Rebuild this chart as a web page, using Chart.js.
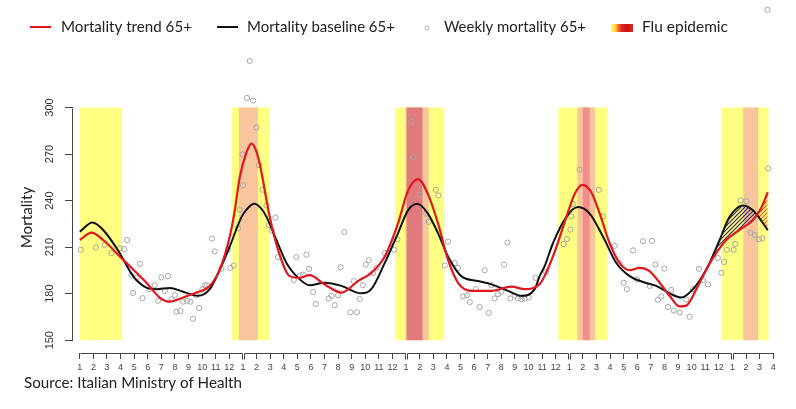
<!DOCTYPE html>
<html>
<head>
<meta charset="utf-8">
<script src="https://cdn.jsdelivr.net/npm/chart.js@4.4.1/dist/chart.umd.min.js"></script>
<style>
  html, body { margin: 0; padding: 0; background: #fff; }
  canvas { display: block; }
</style>
</head>
<body>
<canvas id="mortalityChart" width="796" height="409"></canvas>
<script>
// Months counted from January of the first season (0 = Jan year 1)
const monthTicks = [];
for (let i = 0; i <= 51; i++) monthTicks.push(i);
const monthLabels = [
    '1', '2', '3', '4', '5', '6', '7', '8', '9', '10', '11', '12',
    '1', '2', '3', '4', '5', '6', '7', '8', '9', '10', '11', '12',
    '1', '2', '3', '4', '5', '6', '7', '8', '9', '10', '11', '12',
    '1', '2', '3', '4', '5', '6', '7', '8', '9', '10', '11', '12',
    '1', '2', '3', '4'
];
const yTicks = [150, 180, 210, 240, 270, 300];

// Flu season (yellow) and epidemic periods (orange / red)
const seasonStart = [0, 11.2, 23.2, 35.2, 47.2];
const seasonEnd = [3.1, 13.97, 26.8, 38.8, 50.65];
const epidemicStart = [11.7, 23.95, 24.04, 36.6, 37.0, 48.8];
const epidemicEnd = [13.1, 25.66, 25.2, 37.9, 37.5, 49.9];
const epidemicLevel = [1, 1, 3, 1, 2, 1];

// Mortality trend 65+ (red)
const trendMonth = [
    0, 0.86, 1.72, 2.94, 3.92, 4.9, 5.88, 6.62, 7.6, 8.58, 9.56, 10.3, 11.03, 11.4, 11.76,
    12.25, 12.62, 12.94, 13.24, 13.97, 14.58, 15.44, 16.18, 16.9, 18.0, 19.24, 20.46, 21.44,
    22.43, 23.4, 24.14, 24.88, 25.6, 26.35, 27.08, 27.82, 28.8, 30.27, 31.74, 32.72, 33.8,
    34.8, 35.79, 36.4, 36.96, 37.62, 38.24, 38.97, 39.7, 40.44, 41.18, 41.9, 42.65, 43.38,
    44.1, 44.6, 45.35, 46.08, 46.8, 47.55, 48.5, 49.5, 50.1, 50.6
];
const trendValue = [
    214.6, 219.3, 214.6, 204, 195.6, 187, 177.5, 174.8, 177.5, 180.7, 185, 195.6, 216.8, 233.7, 254.9,
    270.8, 276.7, 272.9, 263.4, 229.5, 208.3, 191.3, 190.2, 192, 186, 180.7, 188.1, 193.4,
    204, 225.2, 246.4, 253.9, 244.3, 225.2, 201.9, 187, 181.8, 181.8, 184.5, 182.9, 186,
    204, 229.5, 244.3, 250.1, 245.4, 231.6, 212.5, 199.8, 195.1, 196.6, 194.5, 187, 178.6,
    171.8, 172.3, 182.9, 195.6, 206.1, 214.6, 221, 227.4, 234.9, 245.4
];

// Mortality baseline 65+ (black)
const baseMonth = [
    0, 0.93, 1.72, 2.94, 3.92, 4.9, 5.64, 6.62, 7.6, 8.7, 9.56, 10.3, 11.03, 11.9, 12.4,
    12.82, 13.35, 13.73, 14.46, 15.2, 16.18, 16.9, 18.0, 19.24, 20.7, 21.44, 22.43, 23.4,
    24.14, 24.82, 25.6, 26.35, 27.08, 28.06, 29.29, 30.27, 31.5, 32.48, 33.46, 33.82, 34.19,
    34.8, 35.79, 36.64, 37.5, 38.48, 39.46, 40.44, 41.42, 42.4, 43.38, 44.24, 45.1, 46.08,
    47.06, 47.79, 48.77, 49.51, 50.6
];
const baseValue = [
    219.9, 225.8, 221, 206.1, 191.3, 183.9, 182.9, 183.7, 181.2, 178.6, 182.9, 195.6, 210.4, 229.5, 235.5,
    237.9, 234.8, 229.5, 214.6, 199.8, 189.2, 185.4, 187, 185, 180.2, 182.9, 199.8, 218.9,
    233.7, 237.9, 231.6, 218.9, 204, 191.3, 188.1, 186, 181.8, 178.6, 182.9, 191.3, 197.7,
    212.5, 229.5, 235.8, 231.6, 216.8, 199.8, 191.3, 187.5, 185, 180.2, 177.5, 182.9, 195.6,
    214.6, 229.5, 236.9, 233.7, 221
];

// Weekly mortality 65+ (grey circles)
const weekMonth = [
    0.07, 1.18, 1.84, 2.33, 2.94, 3.26, 3.48, 3.8, 3.92, 4.17, 4.41, 4.61, 5.15, 5.51, 5.76,
    6.0, 6.25, 6.49, 6.74, 6.99, 7.11, 7.4, 7.6, 7.89, 8.14, 8.33, 8.58, 8.77, 9.02, 9.19,
    9.36, 9.71, 9.93, 10.42, 10.9, 11.08, 11.32, 11.64, 11.76, 11.96, 12.0, 12.3, 12.5, 12.75,
    12.99, 13.18, 13.43, 13.73, 13.92, 14.14, 14.39, 14.58, 15.74, 15.93, 16.18, 16.42, 16.67,
    16.86, 17.16, 17.35, 18.31, 18.51, 18.75, 18.99, 19.19, 19.46, 19.9, 20.15, 20.39, 20.59,
    20.83, 21.03, 21.25, 21.57, 21.82, 22.43, 23.11, 23.36, 24.39, 24.54, 25.0, 25.49, 25.66,
    26.18, 26.37, 26.84, 27.08, 27.57, 27.82, 28.18, 28.48, 28.68, 29.12, 29.41, 29.78, 30.07,
    30.27, 30.51, 30.76, 31.0, 31.2, 31.45, 31.67, 31.99, 32.23, 32.48, 32.72, 33.01, 33.51,
    34.3, 35.59, 35.83, 36.08, 36.15, 36.27, 36.76, 38.18, 38.48, 39.34, 39.71, 40.0, 40.24,
    40.69, 40.98, 41.42, 41.91, 42.08, 42.33, 42.52, 42.77, 42.99, 43.26, 43.5, 43.68, 44.12,
    44.61, 44.85, 45.1, 45.54, 45.83, 46.2, 46.93, 47.18, 47.38, 47.6, 48.09, 48.2, 48.6,
    49.02, 49.34, 49.63, 49.95, 50.2, 50.58, 50.64
];
const weekValue = [
    208.3, 209.8, 211.5, 206.1, 209.3, 208.7, 214.6, 191.7, 180.5, 190.2, 199.1, 177.1, 182.9, 185.4, 175.4,
    190.5, 181.8, 191.3, 176.4, 179, 168.4, 168.8, 174.8, 175.4, 174.8, 163.8, 179, 170.8, 182.9, 185.4,
    185.4, 215.5, 207.2, 196, 208.3, 196.6, 198.1, 222.1, 234.1, 269.7, 250, 306.2, 330, 304.5,
    287.1, 262.9, 247, 236.9, 224.2, 220.6, 229, 203.6, 188.8, 203.6, 191.7, 192.3, 205.1,
    196, 181.2, 173.3, 176.9, 178.6, 172.6, 179, 197, 219.7, 168, 188.1, 168, 176.5,
    185.4, 198.7, 201.5, 193.4, 196.6, 206.1, 208.3, 215, 290.9, 268, 243.8, 231.6, 226.3,
    246.9, 243.3, 198.1, 213.6, 199.8, 196.6, 178.2, 179, 174.6, 182.9, 171.4, 195.1, 167.6,
    185.4, 176.9, 179.7, 181.2, 198.7, 212.9, 176.9, 178.6, 176.9, 176.5, 176.9, 177.5, 190.2,
    193.9, 212, 215.2, 221.3, 229.8, 237.9, 260, 246.9, 229.8, 210.8, 199.8, 187, 182.9,
    207.9, 189.2, 213.8, 185, 214, 198.7, 176.1, 178.2, 196.2, 171.4, 182.4, 169.1, 168,
    176.1, 165.1, 182.9, 196, 188.8, 186, 203, 193.4, 200.4, 208.3, 208.3, 212.1, 240,
    239.6, 219.3, 217.8, 215, 215.7, 363, 260.7
];

// Hatched gap between trend and baseline in the last season
const hatchFrom = 46.08;

const YELLOW = '#ffff82';
const EPIDEMIC_COLORS = { 1: '#f9c59d', 2: '#f58b8b', 3: '#e07b7d' };
const RED = '#e3161d';
const TEXT_FONT = 'Lato, "Open Sans", sans-serif';

function toPoints(xs, ys) {
    return xs.map((x, i) => ({ x: x, y: ys[i] }));
}

// Diagonal hatch pattern like R's polygon(density=...)
function hatchPattern(color) {
    const c = document.createElement('canvas');
    c.width = 4;
    c.height = 4;
    const g = c.getContext('2d');
    g.strokeStyle = color;
    g.lineWidth = 1.1;
    g.beginPath();
    g.moveTo(0, 4); g.lineTo(4, 0);
    g.moveTo(-1, 1); g.lineTo(1, -1);
    g.moveTo(3, 5); g.lineTo(5, 3);
    g.stroke();
    return g.createPattern(c, 'repeat');
}

// Draw text stretched to a given width
function fitText(ctx, text, x, y, width, size) {
    ctx.font = size + 'px ' + TEXT_FONT;
    const w = ctx.measureText(text).width;
    ctx.font = (size * width / w).toFixed(2) + 'px ' + TEXT_FONT;
    ctx.fillText(text, x, y);
}

const fluBands = {
    id: 'fluBands',
    beforeDatasetsDraw(chart) {
        const { ctx, scales: { x, y } } = chart;
        const top = y.getPixelForValue(300);
        const bottom = y.getPixelForValue(150);
        ctx.save();
        seasonStart.forEach((s, i) => {
            const x0 = x.getPixelForValue(s);
            const x1 = x.getPixelForValue(seasonEnd[i]);
            ctx.fillStyle = YELLOW;
            ctx.fillRect(x0, top, x1 - x0, bottom - top);
        });
        epidemicStart.forEach((s, i) => {
            const x0 = x.getPixelForValue(s);
            const x1 = x.getPixelForValue(epidemicEnd[i]);
            ctx.fillStyle = EPIDEMIC_COLORS[epidemicLevel[i]];
            ctx.fillRect(x0, top, x1 - x0, bottom - top);
        });
        ctx.restore();
    }
};

const axesAndLegend = {
    id: 'axesAndLegend',
    afterDraw(chart) {
        const { ctx, chartArea, scales: { x, y } } = chart;
        ctx.save();

        // y axis line only over the labelled range
        ctx.strokeStyle = '#444';
        ctx.lineWidth = 1;
        const ax = Math.round(chartArea.left) - 0.5;
        ctx.beginPath();
        ctx.moveTo(ax, Math.round(y.getPixelForValue(300)) + 0.5);
        ctx.lineTo(ax, Math.round(y.getPixelForValue(150)) + 0.5);
        ctx.stroke();

        // x axis drawn as one segment per year
        const ay = Math.round(chartArea.bottom) + 0.5;
        const yearStart = [0, 12, 24, 36, 48];
        const yearEnd = [12, 24, 36, 48, 51];
        yearStart.forEach((s, i) => {
            const e = yearEnd[i];
            const x0 = Math.round(x.getPixelForValue(s)) + (s > 0 ? 1 : 0) + 0.5;
            const x1 = Math.round(x.getPixelForValue(e)) - (e < 51 ? 1 : 0) + 0.5;
            ctx.beginPath();
            ctx.moveTo(x0, ay);
            ctx.lineTo(x1, ay);
            if (s > 0) { ctx.moveTo(x0, ay); ctx.lineTo(x0, ay + 6); }
            if (e < 51) { ctx.moveTo(x1, ay); ctx.lineTo(x1, ay + 6); }
            ctx.stroke();
        });

        // y axis title
        ctx.fillStyle = '#222';
        ctx.textAlign = 'center';
        ctx.textBaseline = 'alphabetic';
        ctx.save();
        ctx.translate(31.5, 217.5);
        ctx.rotate(-Math.PI / 2);
        fitText(ctx, 'Mortality', 0, 0, 61.5, 14);
        ctx.restore();

        // legend
        ctx.textAlign = 'left';
        ctx.lineWidth = 2;
        ctx.strokeStyle = RED;
        ctx.beginPath(); ctx.moveTo(30, 27); ctx.lineTo(51, 27); ctx.stroke();
        ctx.strokeStyle = '#111';
        ctx.beginPath(); ctx.moveTo(217, 27); ctx.lineTo(238, 27); ctx.stroke();
        ctx.lineWidth = 1;
        ctx.strokeStyle = '#b0b0b0';
        ctx.beginPath(); ctx.arc(427, 28, 2, 0, Math.PI * 2); ctx.stroke();
        const grad = ctx.createLinearGradient(611, 0, 633, 0);
        grad.addColorStop(0, '#ffff50');
        grad.addColorStop(0.2, '#ffd23c');
        grad.addColorStop(0.35, '#f06030');
        grad.addColorStop(0.5, '#e02020');
        grad.addColorStop(0.75, '#c81414');
        grad.addColorStop(1, '#e02626');
        ctx.fillStyle = grad;
        ctx.fillRect(611, 24, 22, 8);

        ctx.fillStyle = '#222';
        fitText(ctx, 'Mortality trend 65+', 61, 32, 131, 14);
        fitText(ctx, 'Mortality baseline 65+', 247, 32, 148, 14);
        fitText(ctx, 'Weekly mortality 65+', 444, 32, 142, 14);
        fitText(ctx, 'Flu epidemic', 642, 32, 86, 14);

        // source note
        fitText(ctx, 'Source: Italian Ministry of Health', 24, 388, 218, 14);
        ctx.restore();
    }
};

function initMortalityChart() {
    const canvas = document.getElementById('mortalityChart');

    const chart = new Chart(canvas, {
        type: 'line',
        data: {
            datasets: [
                {
                    label: 'Mortality trend 65+',
                    data: toPoints(trendMonth, trendValue),
                    borderColor: RED,
                    borderWidth: 2.2,
                    pointRadius: 0,
                    cubicInterpolationMode: 'monotone',
                    fill: false,
                    order: 0
                },
                {
                    label: 'Mortality baseline 65+',
                    data: toPoints(baseMonth, baseValue),
                    borderColor: '#111',
                    borderWidth: 2,
                    pointRadius: 0,
                    cubicInterpolationMode: 'monotone',
                    fill: false,
                    order: 1
                },
                {
                    label: 'hatch trend',
                    data: toPoints(trendMonth, trendValue).filter(p => p.x >= hatchFrom),
                    borderColor: 'rgba(0,0,0,0)',
                    borderWidth: 1,
                    pointRadius: 0,
                    cubicInterpolationMode: 'monotone',
                    fill: { target: '+1', above: hatchPattern('#d85a10'), below: hatchPattern('#2c1f55') },
                    order: 2
                },
                {
                    label: 'hatch baseline',
                    data: toPoints(baseMonth, baseValue).filter(p => p.x >= hatchFrom),
                    borderColor: 'rgba(0,0,0,0)',
                    borderWidth: 1,
                    pointRadius: 0,
                    cubicInterpolationMode: 'monotone',
                    fill: false,
                    order: 2
                },
                {
                    label: 'Weekly mortality 65+',
                    data: toPoints(weekMonth, weekValue),
                    showLine: false,
                    pointRadius: 2.6,
                    pointBorderWidth: 1,
                    pointBorderColor: '#a6a6a6',
                    pointBackgroundColor: 'rgba(0,0,0,0)',
                    order: 3
                }
            ]
        },
        options: {
            responsive: false,
            animation: false,
            events: [],
            layout: {
                padding: { left: 0, right: 16, top: 0, bottom: 0 }
            },
            plugins: {
                legend: { display: false },
                tooltip: { enabled: false }
            },
            scales: {
                x: {
                    type: 'linear',
                    min: -0.5,
                    max: 51.5,
                    afterBuildTicks: (scale) => {
                        scale.ticks = monthTicks.map(v => ({ value: v }));
                    },
                    afterFit: (scale) => {
                        scale.height = 56;
                        scale.paddingLeft = 0;
                        scale.paddingRight = 0;
                    },
                    ticks: {
                        autoSkip: false,
                        maxRotation: 0,
                        minRotation: 0,
                        padding: 3,
                        color: '#444',
                        font: { family: '"Liberation Sans", Arial, sans-serif', size: 9 },
                        callback: (value, index) => monthLabels[index]
                    },
                    grid: {
                        drawOnChartArea: false,
                        drawTicks: true,
                        tickLength: 6,
                        lineWidth: 1,
                        // year boundaries get their own double tick
                        color: (c) => (c.tick && c.tick.value > 0 && c.tick.value % 12 === 0) ? 'rgba(0,0,0,0)' : '#444'
                    },
                    border: { display: false }
                },
                y: {
                    type: 'linear',
                    min: 141.74,
                    max: 366.1,
                    afterBuildTicks: (scale) => {
                        scale.ticks = yTicks.map(v => ({ value: v }));
                    },
                    afterFit: (scale) => {
                        scale.width = 73;
                        scale.paddingTop = 0;
                        scale.paddingBottom = 0;
                    },
                    ticks: {
                        minRotation: 90,
                        maxRotation: 90,
                        crossAlign: 'center',
                        padding: 6,
                        color: '#333',
                        font: { family: '"Liberation Sans", Arial, sans-serif', size: 11 }
                    },
                    grid: {
                        drawOnChartArea: false,
                        drawTicks: true,
                        tickLength: 8,
                        lineWidth: 1,
                        color: '#444'
                    },
                    border: { display: false }
                }
            }
        },
        plugins: [fluBands, axesAndLegend]
    });

    return chart;
}

initMortalityChart();
</script>
</body>
</html>
